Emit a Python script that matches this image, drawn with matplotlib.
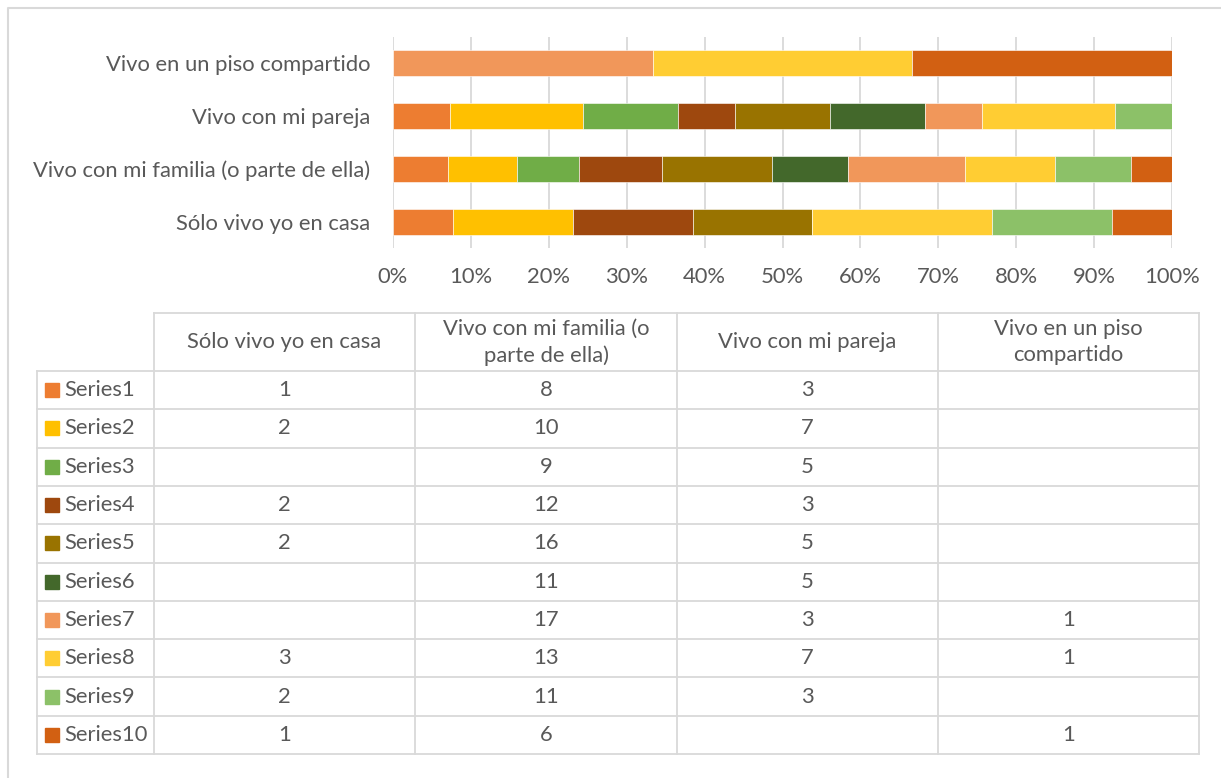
import matplotlib.pyplot as plt
import numpy as np

plt.rcParams['font.family'] = ['Lato', 'DejaVu Sans']

# categories as shown on the y axis, bottom to top
categories = ["Sólo vivo yo en casa", "Vivo con mi familia (o parte de ella)",
              "Vivo con mi pareja", "Vivo en un piso compartido"]
table_headers = ["Sólo vivo yo en casa", "Vivo con mi familia (o\nparte de ella)",
                 "Vivo con mi pareja", "Vivo en un piso\ncompartido"]
series_names = ["Series%d" % i for i in range(1, 11)]
# one row per series, one column per category (0 = empty cell)
values = [
    [1, 8, 3, 0],
    [2, 10, 7, 0],
    [0, 9, 5, 0],
    [2, 12, 3, 0],
    [2, 16, 5, 0],
    [0, 11, 5, 0],
    [0, 17, 3, 1],
    [3, 13, 7, 1],
    [2, 11, 3, 0],
    [1, 6, 0, 1],
]
colors = ["#ED7D31", "#FFC000", "#70AD47", "#9E480E", "#997300",
          "#43682B", "#F1975A", "#FFCD33", "#8CC168", "#D26012"]

txt = "#595959"
grid = "#D9D9D9"
fs = 15.8
W, H = 1221, 778

fig = plt.figure(figsize=(W / 100, H / 100), dpi=100)

# overlay in pixel coordinates for border and data table
ov = fig.add_axes([0, 0, 1, 1])
ov.set_xlim(0, W)
ov.set_ylim(H, 0)
ov.axis("off")
ov.plot([7.5, 7.5, W], [H, 7.5, 7.5], color=grid, lw=1.5)

# bar chart
ax = fig.add_axes([393 / W, 1 - 248 / H, (1172 - 393) / W, (248 - 37) / H])
vals = np.array(values, dtype=float)
pct = vals / vals.sum(axis=0) * 100
ypos = np.arange(len(categories))
left = np.zeros(len(categories))
for i in range(len(series_names)):
    ax.barh(ypos, pct[i], left=left, height=0.49, color=colors[i],
            edgecolor="white", linewidth=0.4, zorder=3)
    left += pct[i]
ax.set_xlim(0, 100)
ax.set_ylim(-0.5, 3.5)
ax.set_xticks(np.arange(0, 101, 10))
ax.set_xticklabels(["%d%%" % t for t in range(0, 101, 10)])
ax.set_yticks(ypos)
ax.set_yticklabels(categories)
ax.tick_params(length=0, labelsize=fs, labelcolor=txt)
ax.tick_params(axis="x", pad=14)
ax.tick_params(axis="y", pad=16.5)
ax.grid(axis="x", color=grid, lw=1.3, zorder=0)
for s in ax.spines.values():
    s.set_visible(False)

# data table
col_x = [154, 415, 677, 938, 1199]
row_top = 313
row0 = 371
row_h = (754 - 371) / 10
lw = 1.3
ov.plot([col_x[0], col_x[-1]], [row_top, row_top], color=grid, lw=lw)
for k in range(11):
    y = row0 + k * row_h
    ov.plot([37, col_x[-1]], [y, y], color=grid, lw=lw)
ov.plot([37, 37], [row0, 754], color=grid, lw=lw)
for x in col_x:
    ov.plot([x, x], [row_top, 754], color=grid, lw=lw)

for j, h in enumerate(table_headers):
    cx = (col_x[j] + col_x[j + 1]) / 2
    ov.text(cx, (row_top + row0) / 2, h, ha="center", va="center",
            color=txt, fontsize=fs, linespacing=1.4)

for i, name in enumerate(series_names):
    cy = row0 + (i + 0.5) * row_h
    ov.add_patch(plt.Rectangle((45, cy - 7), 14, 14, color=colors[i]))
    ov.text(64, cy, name, ha="left", va="center", color=txt, fontsize=fs)
    for j in range(len(categories)):
        if values[i][j]:
            cx = (col_x[j] + col_x[j + 1]) / 2
            ov.text(cx, cy, str(values[i][j]), ha="center", va="center",
                    color=txt, fontsize=fs)

fig.savefig("out.png", dpi=100)
